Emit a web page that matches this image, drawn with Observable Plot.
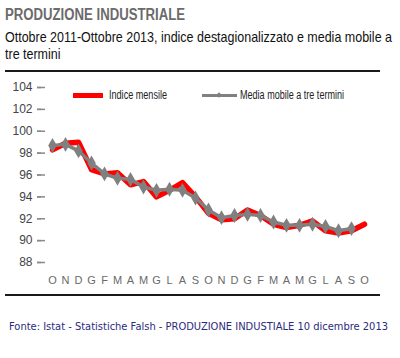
<!DOCTYPE html>
<html>
<head>
<meta charset="utf-8">
<script src="https://cdn.jsdelivr.net/npm/d3@7"></script>
<script src="https://cdn.jsdelivr.net/npm/@observablehq/plot@0.6"></script>
<style>
  html, body { margin: 0; padding: 0; background: #fff; }
  body { width: 400px; height: 358px; position: relative; overflow: hidden; }
  .narrow { font-family: "Liberation Sans", Arial, sans-serif; transform-origin: 0 0; display: inline-block; white-space: nowrap; }
  .abs { position: absolute; }
  #title { left: 5px; top: 6px; font-weight: bold; font-size: 16px; color: #6b6b6b; }
  .sub { left: 5px; font-size: 15px; line-height: 17px; color: #111; }
  .rule { position: absolute; left: 5px; width: 375px; height: 2px; background: #1a1a1a; }
  #chart { position: absolute; left: 0; top: 75px; }
  .sw { position: absolute; }
  .lt { font-size: 12px; color: #222; }
  #caption { left: 9px; top: 321px; font-family: "DejaVu Sans", Verdana, sans-serif; font-size: 10px; color: #2b2b7d; white-space: nowrap; transform-origin: 0 0; }
</style>
</head>
<body>
<div id="title" class="abs narrow">PRODUZIONE INDUSTRIALE</div>
<div id="sub1" class="abs narrow sub" style="top:28px">Ottobre 2011-Ottobre 2013, indice destagionalizzato e media mobile a</div>
<div id="sub2" class="abs narrow sub" style="top:45px">tre termini</div>
<div class="rule" style="top:70px"></div>
<div id="chart"></div>
<div class="sw" style="left:73px; top:93px; width:30px; height:5px; background:#ff0000"></div>
<div id="lg1" class="abs narrow lt" style="left:109px; top:88px">Indice mensile</div>
<div class="sw" style="left:202px; top:94px; width:35px; height:3px; background:#808080"></div>
<div class="sw" style="left:217px; top:93px; width:4px; height:4px; background:#808080; transform:rotate(45deg)"></div>
<div id="lg2" class="abs narrow lt" style="left:240px; top:88px">Media mobile a tre termini</div>
<div class="rule" style="top:294px"></div>
<div id="caption" class="abs">Fonte: Istat - Statistiche Falsh - PRODUZIONE INDUSTIALE 10 dicembre 2013</div>
<script>
// Month labels, Ottobre 2011 - Ottobre 2013
const months = ["O","N","D","G","F","M","A","M","G","L","A","S","O","N","D","G","F","M","A","M","G","L","A","S","O"];
// Indice mensile (destagionalizzato)
const indice = [98.3, 98.9, 99.0, 96.5, 96.1, 96.2, 95.1, 95.4, 94.0, 94.6, 95.3, 94.0,
                92.5, 91.9, 92.0, 92.8, 92.3, 91.5, 91.2, 91.4, 91.8, 90.9, 90.7, 90.9, 91.5];
// Media mobile a tre termini (Ott 2011 - Set 2013)
const media = [98.7, 98.8, 98.2, 97.1, 96.1, 95.7, 95.6, 94.9, 94.6, 94.7, 94.6, 93.9,
               92.8, 92.1, 92.3, 92.4, 92.3, 91.7, 91.4, 91.4, 91.5, 91.3, 90.9, 91.1];
const yTicks = [88, 90, 92, 94, 96, 98, 100, 102, 104];

const indiceData = indice.map((v, i) => ({i, v}));
const mediaData = media.map((v, i) => ({i, v}));

const chart = Plot.plot({
  width: 400,
  height: 220,
  marginTop: 12,
  marginBottom: 33,
  marginLeft: 41,
  marginRight: 25,
  style: {fontFamily: "'Liberation Sans', Arial, sans-serif", background: "transparent"},
  x: {type: "point", domain: d3.range(months.length), padding: 0.45},
  y: {domain: [88, 104]},
  marks: [
    Plot.axisY({ticks: yTicks, tickSize: 8, dx: 4, tickFormat: () => "", stroke: "#8a8a8a", strokeWidth: 1.5, label: null}),
    Plot.axisY({ticks: yTicks, tickSize: 4, tickPadding: 5, fontSize: 12, fill: "#444", label: null, line: true, stroke: "#8a8a8a", strokeWidth: 1.5}),
    Plot.axisX({tickSize: 0, tickPadding: 14, tickFormat: i => months[i], fontSize: 11, fill: "#6a6a6a", label: null, line: true, stroke: "#444", strokeWidth: 1.5}),
    Plot.line(indiceData, {x: "i", y: "v", stroke: "#ff0000", strokeWidth: 5.5}),
    Plot.line(mediaData, {x: "i", y: "v", stroke: "#808080", strokeWidth: 3.5}),
    Plot.dot(mediaData, {x: "i", y: "v", symbol: "diamond", r: 4.5, fill: "#808080", stroke: "none"})
  ]
});
document.getElementById("chart").appendChild(chart);

function fit(id, target, scaleOverride) {
  const el = document.getElementById(id);
  const w = el.getBoundingClientRect().width;
  const s = scaleOverride != null ? scaleOverride : target / w;
  el.style.transform = `scaleX(${s})`;
  return s;
}
fit("title", 180);
const s = fit("sub1", 387);
fit("sub2", null, s);
fit("lg1", 58);
fit("lg2", 104);
fit("caption", 379);
</script>
</body>
</html>
